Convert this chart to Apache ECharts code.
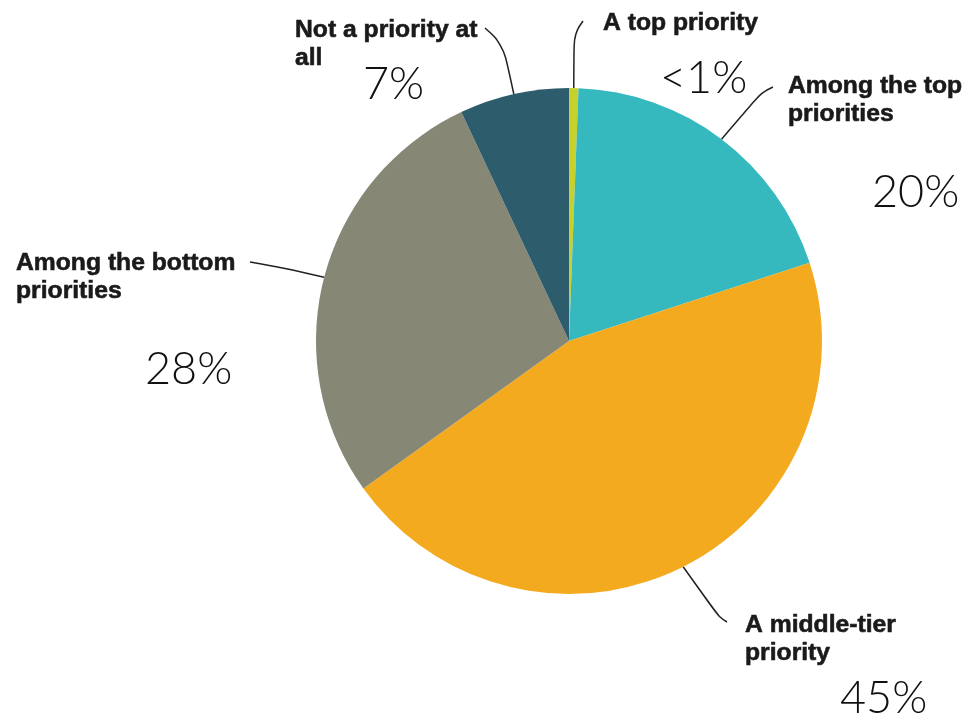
<!DOCTYPE html>
<html><head><meta charset="utf-8">
<script src="https://cdn.jsdelivr.net/npm/echarts@6/dist/echarts.min.js"></script>
<style>html,body{margin:0;padding:0;background:#fff}#c{width:968px;height:721px}</style>
</head><body><div id="c"></div>
<script>
// ---- data ----
const categories = ['A top priority', 'Among the top\npriorities', 'A middle-tier\npriority', 'Among the bottom\npriorities', 'Not a priority at\nall'];
const values = [0.6, 19.4, 45.1, 27.9, 7.0];
const pctLabels = ['<1%', '20%', '45%', '28%', '7%'];
const colors = ['#c5d12c', '#36b8bf', '#f4aa1f', '#878776', '#2d5c6c'];

// ---- label layout (positions only) ----
const nameLayout = [
  {x: 603, y: 9,   line: [[574, 34], [583, 21]]},
  {x: 788, y: 72,  line: [[762, 92], [773, 87]]},
  {x: 745, y: 611, line: [[719, 617], [727, 622]]},
  {x: 16,  y: 249, line: [[285, 268], [250, 262]]},
  {x: 295, y: 16,  line: [[503, 44], [485, 28]]}
];
const pctLayout = [
  {x: 660, y: 55}, {x: 872, y: 169}, {x: 840, y: 675}, {x: 145, y: 346}, {x: 363, y: 61}
];

const data = categories.map((c, i) => ({name: c, value: values[i], itemStyle: {color: colors[i]}}));
const pctData = categories.map((c, i) => ({name: pctLabels[i], value: values[i]}));

const chart = echarts.init(document.getElementById('c'), null, {renderer: 'canvas'});
chart.setOption({
  animation: false,
  series: [
    {
      type: 'pie', center: [569, 341], radius: 253, startAngle: 90, clockwise: true,
      silent: true, z: 1,
      itemStyle: {color: 'rgba(0,0,0,0)'},
      label: {show: true, position: 'outer', formatter: p => p.name, fontFamily: 'Lato', fontWeight: 300,
        fontSize: 45, lineHeight: 46, color: '#111'},
      labelLine: {show: false},
      labelLayout: p => ({x: pctLayout[p.dataIndex].x, y: pctLayout[p.dataIndex].y, align: 'left', verticalAlign: 'top'}),
      data: pctData
    },
    {
      type: 'pie', center: [569, 341], radius: 253, startAngle: 90, clockwise: true,
      silent: true, z: 2,
      itemStyle: {borderWidth: 0},
      label: {show: true, position: 'outer', formatter: p => p.name, fontFamily: 'Liberation Sans', fontWeight: 'bold',
        fontSize: 24.7, lineHeight: 28, color: '#1a1a1a', align: 'left',
        textBorderColor: '#1a1a1a', textBorderWidth: 0.6},
      labelLine: {show: true, smooth: 0.4, lineStyle: {color: '#222', width: 1.5}},
      labelLayout: p => {
        const L = nameLayout[p.dataIndex];
        const start = p.labelLinePoints ? p.labelLinePoints[0] : L.line[0];
        return {x: L.x, y: L.y, align: 'left', verticalAlign: 'top', labelLinePoints: [start, L.line[0], L.line[1]]};
      },
      data: data
    }
  ]
});
</script>
</body></html>
